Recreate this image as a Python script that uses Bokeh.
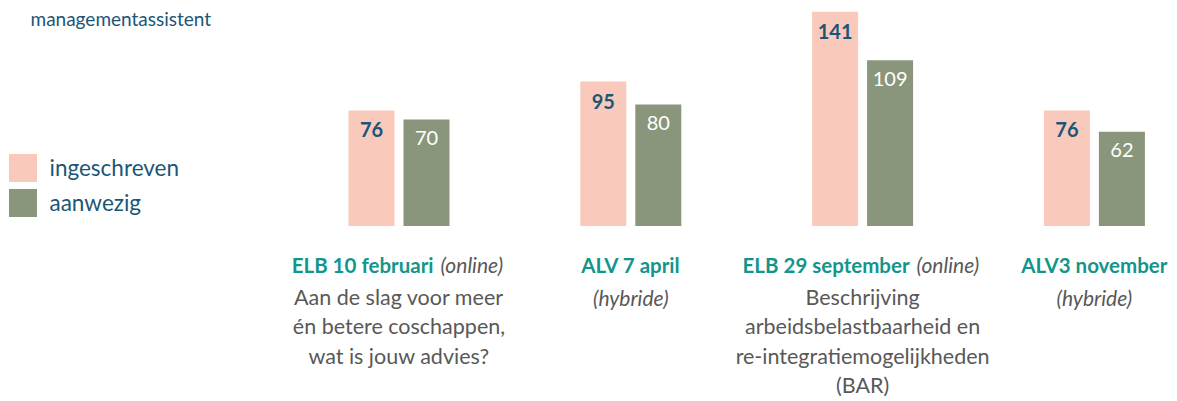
from bokeh.plotting import figure
from bokeh.models import Range1d, Label, Legend, LegendItem
from bokeh.core.properties import value
from bokeh.embed import file_html
from bokeh.resources import INLINE

# ---------------- data ----------------
title_text = "managementassistent"
series_names = ["ingeschreven", "aanwezig"]
categories = ["ELB 10 februari", "ALV 7 april", "ELB 29 september", "ALV3 november"]
category_mode = ["(online)", "(hybride)", "(online)", "(hybride)"]
descriptions = [
    ["Aan de slag voor meer", "én betere coschappen,", "wat is jouw advies?"],
    [],
    ["Beschrijving", "arbeidsbelastbaarheid en", "re-integratiemogelijkheden", "(BAR)"],
    [],
]
ingeschreven = [76, 95, 141, 76]
aanwezig = [70, 80, 109, 62]

# ---------------- layout / style ----------------
W, H = 1177, 401
FONT = "Lato"
PINK = "#F9C9BB"
GREEN = "#8A967C"
BLUE = "#1B5677"
TEAL = "#13958B"
GRAY = "#585858"

PX_X = 231.8          # px per category
X0_PX = 398.5         # px of first category centre
PX_Y = 1.52           # px per unit
BASE_PX = 225.5       # px of baseline from top
BAR_OFF = 27.5 / PX_X
BAR_W = 46 / PX_X
mode_inline = [True, False, True, False]
split_px = [34.5, None, 47, None]   # bold/italic split in header line


def y_at(py):
    """data y for a pixel row"""
    return (BASE_PX - py) / PX_Y


p = figure(width=W, height=H,
           x_range=Range1d(-X0_PX / PX_X, (W - X0_PX) / PX_X),
           y_range=Range1d(-(H - BASE_PX) / PX_Y, BASE_PX / PX_Y),
           output_backend="svg", toolbar_location=None,
           x_axis_type=None, y_axis_type=None,
           min_border=0, outline_line_color=None)
p.grid.visible = False
p.background_fill_color = "white"
p.border_fill_color = "white"

idx = list(range(len(categories)))
xp = [i - BAR_OFF for i in idx]
xg = [i + BAR_OFF for i in idx]

r1 = p.vbar(x=xp, top=ingeschreven, bottom=0, width=BAR_W,
            fill_color=PINK, line_color=None)
r2 = p.vbar(x=xg, top=aanwezig, bottom=0, width=BAR_W,
            fill_color=GREEN, line_color=None)

# value labels
p.text(x=xp, y=[v - 19.5 / PX_Y for v in ingeschreven], text=[str(v) for v in ingeschreven],
       text_font=value(FONT), text_font_size="20px", text_font_style="bold",
       text_color=BLUE, text_align="center", text_baseline="middle")
p.text(x=xg, y=[v - 18.5 / PX_Y for v in aanwezig], text=[str(v) for v in aanwezig],
       text_font=value(FONT), text_font_size="20px",
       text_color="white", text_align="center", text_baseline="middle")

# category headers
HEAD_Y = 264
LINE_Y0 = 296
LINE_DY = 29.5
for i, cat in enumerate(categories):
    if mode_inline[i]:
        sx = i + split_px[i] / PX_X
        p.text(x=[sx], y=[y_at(HEAD_Y)], text=[cat], text_font=value(FONT),
               text_font_size="20.5px", text_font_style="bold", text_color=TEAL,
               text_align="right", text_baseline="middle")
        p.text(x=[sx + 7 / PX_X], y=[y_at(HEAD_Y)], text=[category_mode[i]],
               text_font=value(FONT), text_font_size="21px", text_font_style="italic",
               text_color=GRAY, text_align="left", text_baseline="middle")
        lines = descriptions[i]
        p.text(x=[i] * len(lines),
               y=[y_at(LINE_Y0 + LINE_DY * k) for k in range(len(lines))],
               text=lines, text_font=value(FONT), text_font_size="21.5px",
               text_color=GRAY, text_align="center", text_baseline="middle")
    else:
        p.text(x=[i], y=[y_at(HEAD_Y)], text=[cat], text_font=value(FONT),
               text_font_size="20.5px", text_font_style="bold", text_color=TEAL,
               text_align="center", text_baseline="middle")
        p.text(x=[i], y=[y_at(LINE_Y0 + 1)], text=[category_mode[i]],
               text_font=value(FONT), text_font_size="21px", text_font_style="italic",
               text_color=GRAY, text_align="center", text_baseline="middle")

# title
p.add_layout(Label(x=30, y=H - 18, x_units="screen", y_units="screen",
                   text=title_text, text_font=FONT, text_font_size="19px",
                   text_color=BLUE, text_baseline="middle"))

# legend
legend = Legend(items=[LegendItem(label=series_names[0], renderers=[r1]),
                       LegendItem(label=series_names[1], renderers=[r2])],
                location=(4.5, 181.5), glyph_width=35, glyph_height=35,
                label_height=35, spacing=-1, padding=0, margin=0,
                border_line_color=None, background_fill_alpha=0,
                label_text_font=FONT, label_text_font_size="22.5px",
                label_text_color=BLUE, label_standoff=10)
p.add_layout(legend)

open("out.html", "w").write(file_html(p, INLINE))
